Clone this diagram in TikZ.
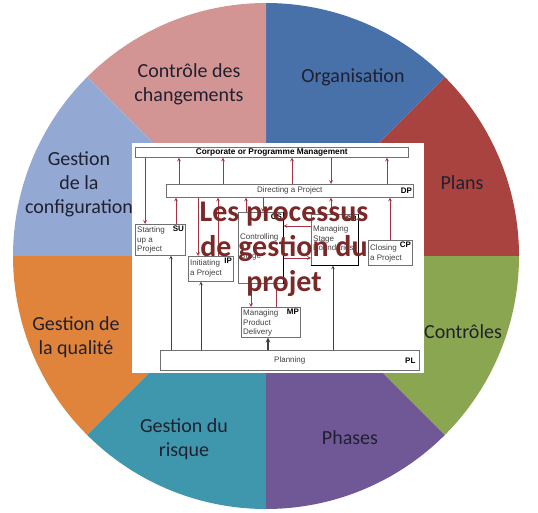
\documentclass[tikz,border=0pt]{standalone}
\usepackage{fontspec}
\setmainfont{Carlito}
\newfontfamily\arialfont{Liberation Sans}
\usepackage{tikz}
\usetikzlibrary{positioning}

\definecolor{plans}{HTML}{A8433F}
\definecolor{orga}{HTML}{4771A8}
\definecolor{aenderung}{HTML}{D39594}
\definecolor{konfig}{HTML}{93A9D4}
\definecolor{qualitaet}{HTML}{E0843C}
\definecolor{risiko}{HTML}{3F97AE}
\definecolor{phasen}{HTML}{705896}
\definecolor{kontrolle}{HTML}{8AA650}
\definecolor{schrift}{HTML}{202030}
\definecolor{titelrot}{HTML}{7A2828}
\definecolor{flussrot}{HTML}{A83244}
\definecolor{kastengrau}{HTML}{707070}
\definecolor{kastentext}{HTML}{404040}

\tikzset{
  feld/.style={font=\fontsize{20}{24}\selectfont, text=schrift, align=center, inner sep=0pt},
  kasten/.style={draw=kastengrau, fill=white, inner sep=0pt, line width=0.6pt, anchor=north west},
  ktext/.style={font=\arialfont\fontsize{8}{9.4}\selectfont, text=kastentext, inner sep=0pt, align=left},
  kcode/.style={font=\arialfont\bfseries\fontsize{8}{8}\selectfont, inner sep=1.5pt, anchor=north east},
  fluss/.style={->, draw=flussrot, line width=0.7pt},
  planung/.style={->, draw=black!75, line width=0.6pt},
  titel/.style={font=\bfseries\fontsize{30}{35}\selectfont, text=titelrot, align=center, inner sep=0pt}
}

\begin{document}
\begin{tikzpicture}[x=1pt, y=-1pt, >=stealth]
    \useasboundingbox (0,0) rectangle (538,513);

    % Kreissegmente
    \coordinate (mitte) at (266,256);
    \foreach \w/\farbe in {0/plans, 45/orga, 90/aenderung, 135/konfig, 180/qualitaet, 225/risiko, 270/phasen, 315/kontrolle}
        \fill[\farbe] (mitte) -- ++(\w:253pt) arc[start angle=\w, delta angle=45, radius=253pt] -- cycle;

    % Beschriftung der Segmente
    \node (aenderungtext) at (189,84) [feld] {Contrôle des\\changements};
    \node (orgatext) at (353,77) [feld] {Organisation};
    \node (planstext) at (462,183) [feld] {Plans};
    \node (kontrolletext) at (463,332) [feld] {Contrôles};
    \node (phasentext) at (350,438) [feld] {Phases};
    \node (risikotext) at (184,439) [feld] {Gestion du\\risque};
    \node (qualitaettext) at (76,337) [feld] {Gestion de\\la qualité};
    \node (konfigtext) at (79,184) [feld] {Gestion\\de la\\configuration};

    % Prozessbild in der Mitte
    \fill[white] (132,143) rectangle (424,373);

    \node (corp) at (135,147) [kasten, minimum width=273pt, minimum height=10pt,
        font=\arialfont\bfseries\fontsize{8.3}{9}\selectfont] {Corporate or Programme Management};
    \node (dp) at (166,184) [kasten, minimum width=247pt, minimum height=13pt,
        font=\arialfont\fontsize{8}{9}\selectfont, text=kastentext,
        label={[kcode, anchor=east, text=black]east:DP}] {Directing a Project};
    \node (su) at (135,224) [kasten, minimum width=50pt, minimum height=31pt, label={[kcode]north east:SU}] {};
    \node (ip) at (188,256) [kasten, minimum width=45pt, minimum height=25pt, label={[kcode]north east:IP}] {};
    \node (cs) at (238,212) [kasten, minimum width=45pt, minimum height=71pt, label={[kcode]north east:CS}] {};
    \node (sb) at (311,214) [kasten, minimum width=47pt, minimum height=51pt, label={[kcode]north east:SB}] {};
    \node (cp) at (368,240) [kasten, minimum width=44pt, minimum height=25pt, label={[kcode]north east:CP}] {};
    \node (mp) at (241,307) [kasten, minimum width=59pt, minimum height=30pt, label={[kcode]north east:MP}] {};
    \node (pl) at (160,350) [kasten, minimum width=259pt, minimum height=20pt,
        font=\arialfont\fontsize{8}{9}\selectfont, text=kastentext,
        label={[kcode, anchor=east, inner sep=4pt, text=black]east:PL}] {Planning};

    % Schattenkanten
    \draw[black, line width=1.2pt] (cs.north east) -- (cs.south east);
    \draw[black, line width=1.2pt] (sb.north east) -- (sb.south east) -- (sb.south west);

    % Texte in den Kaesten
    \node (sutext) [ktext, below right=3pt and 2pt of su.north west] {Starting\\up a\\Project};
    \node (iptext) [ktext, below right=4pt and 2pt of ip.north west] {Initiating\\a Project};
    \node (cstext) [ktext, below right=22pt and 2pt of cs.north west] {Controlling\\a\\Stage};
    \node (sbtext) [ktext, below right=12pt and 2pt of sb.north west] {Managing\\Stage\\Boundaries};
    \node (cptext) [ktext, below right=5pt and 2pt of cp.north west] {Closing\\a Project};
    \node (mptext) [ktext, below right=3pt and 2pt of mp.north west] {Managing\\Product\\Delivery};

    % Richtungspfeile (rot)
    \draw[fluss] (corp.south -| 145,0) -- (su.north -| 145,0);
    \foreach \x in {179,223,292,387}
        \draw[fluss] (dp.north -| \x,0) -- (corp.south -| \x,0);
    \draw[fluss] (corp.south -| 331,0) -- (dp.north -| 331,0);
    \draw[fluss] (su.north -| 176,0) -- (dp.south -| 176,0);
    \draw[fluss] (dp.south -| 198,0) -- (ip.north -| 198,0);
    \draw[fluss] (ip.north -| 218,0) -- (dp.south -| 218,0);
    \draw[fluss] (cs.north -| 246,0) -- (dp.south -| 246,0);
    \draw[fluss] (dp.south -| 263,0) -- (cs.north -| 263,0);
    \draw[fluss] (sb.north -| 331,0) -- (dp.south -| 331,0);
    \draw[fluss] (cp.north -| 390,0) -- (dp.south -| 390,0);
    \draw[fluss] (sb.west |- 0,226) -- (cs.east |- 0,226);
    \draw[fluss] (cs.east |- 0,258) -- (sb.west |- 0,258);
    \draw[fluss] (cs.south -| 251,0) -- (mp.north -| 251,0);
    \draw[fluss] (mp.north -| 276,0) -- (cs.south -| 276,0);

    % Planung
    \foreach \x/\ziel in {171/su, 201/ip, 333/sb}
        \draw[planung] (pl.north -| \x,0) -- (\ziel.south -| \x,0);
    \draw[planung, line width=1.2pt] (pl.north -| 268,0) -- (mp.south -| 268,0);

    % Titel
    \node (titeltext) at (284,249) [titel] {Les processus\\de gestion du\\projet};

\end{tikzpicture}
\end{document}
